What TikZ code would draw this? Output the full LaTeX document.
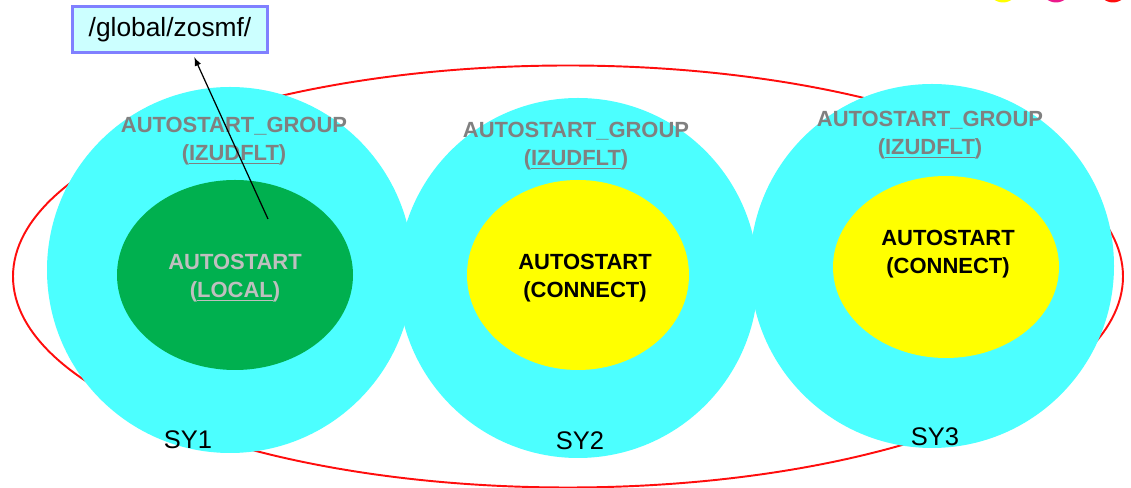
\documentclass[tikz,border=0pt]{standalone}
\usepackage{fontspec}
\setmainfont{Liberation Sans}
\usetikzlibrary{arrows}
\definecolor{mcyan}{rgb}{0.3, 1, 1}
\definecolor{mgreen}{rgb}{0, 0.69, 0.31}
\definecolor{myellow}{rgb}{1, 1, 0}
\definecolor{mred}{rgb}{1, 0.05, 0.05}
\definecolor{mpink}{rgb}{0.92, 0.1, 0.55}
\definecolor{mblue}{rgb}{0.5, 0.5, 1}
\definecolor{mlight}{rgb}{0.8, 1, 1}
\definecolor{mgray}{rgb}{0.5, 0.5, 0.5}
\definecolor{mpale}{rgb}{0.75, 0.75, 0.75}
\tikzset{grp/.style = {align = center, text = mgray, font = \fontsize{12.5}{16}\selectfont\bfseries}}
\tikzset{proc/.style = {align = center, font = \fontsize{12.5}{16}\selectfont\bfseries}}
\tikzset{sys/.style = {font = \fontsize{14.5}{17}\selectfont}}
\tikzset{pathbox/.style = {draw = mblue, line width = 1.7pt, fill = mlight, minimum width = 3.9cm, minimum height = 0.92cm, font = \fontsize{15}{18}\selectfont}}

\begin{document}
\begin{tikzpicture}
      \clip (0, 0) rectangle (22.62, 9.76);

      \fill [myellow] (20.06, 10.01) circle [radius=0.3];
      \fill [mpink] (21.12, 10.01) circle [radius=0.3];
      \fill [mred] (22.26, 10.01) circle [radius=0.3];

      \draw [mred, line width=1.1pt] (11.36, 4.23) ellipse [x radius=11.1, y radius=4.22];

      \fill [mcyan] (4.60, 4.36) circle [radius=3.66];
      \fill [mcyan] (11.56, 4.20) circle [radius=3.60];
      \fill [mcyan] (18.64, 4.44) circle [radius=3.64];

      \fill [mgreen] (4.70, 4.26) ellipse [x radius=2.36, y radius=1.90];
      \fill [myellow] (11.56, 4.26) ellipse [x radius=2.22, y radius=1.90];
      \fill [myellow] (18.92, 4.42) ellipse [x radius=2.26, y radius=1.82];

      \node (grp1) [grp] at (4.68, 6.94) {AUTOSTART\_GROUP\\(\underline{IZUDFLT})};
      \node (grp2) [grp] at (11.52, 6.84) {AUTOSTART\_GROUP\\(\underline{IZUDFLT})};
      \node (grp3) [grp] at (18.60, 7.06) {AUTOSTART\_GROUP\\(\underline{IZUDFLT})};

      \node (local) [proc, text=mpale] at (4.70, 4.20) {AUTOSTART\\(\underline{LOCAL})};
      \node (conn2) [proc] at (11.70, 4.20) {AUTOSTART\\(CONNECT)};
      \node (conn3) [proc] at (18.96, 4.68) {AUTOSTART\\(CONNECT)};

      \node (sy1) [sys] at (3.76, 0.96) {SY1};
      \node (sy2) [sys] at (11.60, 0.94) {SY2};
      \node (sy3) [sys] at (18.70, 1.02) {SY3};

      \node (zosmf) [pathbox] at (3.40, 9.17) {/global/zosmf/\hspace{4pt}};
      \coordinate (pin) at (5.36, 5.38);
      \draw [-latex, line width=0.7pt, shorten >=2pt] (pin) -- (zosmf.-47);
    \end{tikzpicture}
\end{document}
